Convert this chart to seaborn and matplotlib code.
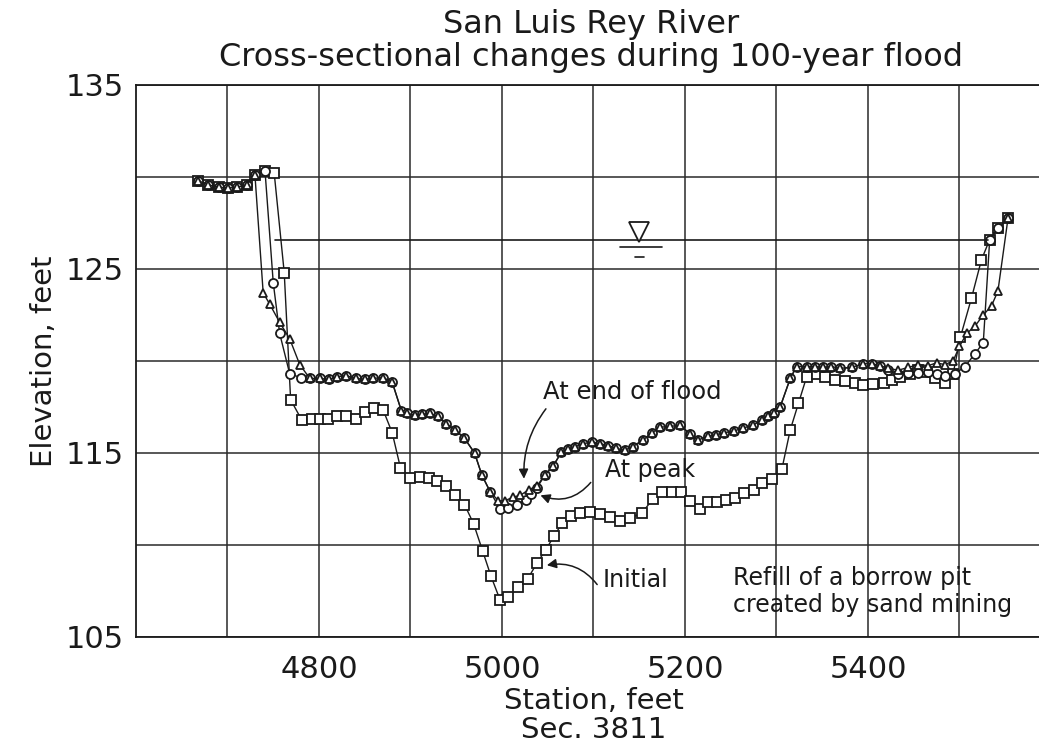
import numpy as np
import pandas as pd
import matplotlib
matplotlib.use("Agg")
import matplotlib.pyplot as plt
import seaborn as sns

initial_x = [4668, 4679, 4691, 4701, 4710, 4721, 4730, 4741, 4751, 4762, 4769, 4781,
             4792, 4801, 4810, 4820, 4830, 4840, 4850, 4860, 4870, 4880, 4889, 4900,
             4910, 4920, 4929, 4939, 4949, 4959, 4969, 4979, 4988, 4998, 5007, 5018,
             5028, 5038, 5048, 5057, 5066, 5075, 5085, 5096, 5107, 5118, 5129, 5140,
             5153, 5165, 5175, 5186, 5196, 5205, 5216, 5225, 5235, 5245, 5255, 5264,
             5275, 5284, 5295, 5306, 5315, 5324, 5333, 5344, 5353, 5364, 5375, 5386,
             5395, 5406, 5417, 5426, 5435, 5446, 5455, 5464, 5473, 5484, 5493, 5501,
             5513, 5524, 5533, 5542, 5553]
initial_y = [129.8, 129.57, 129.44, 129.4, 129.44, 129.57, 130.1, 130.33, 130.23, 124.8, 117.9, 116.8,
             116.85, 116.85, 116.85, 117.0, 117.0, 116.85, 117.25, 117.45, 117.35, 116.1, 114.2, 113.65,
             113.7, 113.65, 113.5, 113.2, 112.7, 112.2, 111.15, 109.65, 108.3, 107.0, 107.2, 107.7,
             108.15, 109.0, 109.75, 110.5, 111.2, 111.55, 111.75, 111.8, 111.7, 111.5, 111.3, 111.45,
             111.75, 112.5, 112.9, 112.9, 112.9, 112.4, 111.95, 112.35, 112.35, 112.45, 112.55, 112.8,
             113.0, 113.35, 113.6, 114.15, 116.25, 117.7, 119.15, 119.3, 119.15, 118.97, 118.9, 118.8,
             118.7, 118.75, 118.8, 118.97, 119.15, 119.3, 119.5, 119.4, 119.05, 118.8, 119.3, 121.3,
             123.4, 125.5, 126.6, 127.2, 127.75]

peak_x = [4668, 4679, 4691, 4701, 4710, 4721, 4730, 4741, 4750, 4757, 4768, 4780,
          4790, 4801, 4811, 4820, 4830, 4840, 4850, 4859, 4870, 4880, 4890, 4896,
          4905, 4913, 4921, 4930, 4939, 4949, 4959, 4970, 4978, 4987, 4998, 5007,
          5016, 5026, 5032, 5038, 5047, 5056, 5065, 5072, 5080, 5089, 5098, 5107,
          5116, 5125, 5134, 5143, 5154, 5164, 5173, 5184, 5195, 5205, 5214, 5225,
          5234, 5243, 5254, 5263, 5274, 5284, 5291, 5297, 5304, 5315, 5322, 5333,
          5342, 5351, 5360, 5369, 5382, 5395, 5404, 5413, 5422, 5433, 5444, 5455,
          5466, 5475, 5484, 5495, 5506, 5517, 5526, 5533, 5542, 5553]
peak_y = [129.8, 129.57, 129.44, 129.4, 129.44, 129.57, 130.1, 130.33, 124.25, 121.5, 119.3, 119.1,
          119.05, 119.05, 119.0, 119.15, 119.2, 119.05, 119.0, 119.05, 119.1, 118.85, 117.3, 117.15,
          117.05, 117.1, 117.15, 117.0, 116.6, 116.25, 115.8, 115.0, 113.8, 112.9, 111.95, 112.0,
          112.2, 112.45, 112.75, 113.1, 113.8, 114.3, 115.05, 115.2, 115.35, 115.5, 115.6, 115.5,
          115.4, 115.25, 115.15, 115.35, 115.7, 116.1, 116.4, 116.45, 116.5, 116.05, 115.7, 115.9,
          116.0, 116.1, 116.2, 116.35, 116.5, 116.8, 117.0, 117.15, 117.5, 119.05, 119.7, 119.7,
          119.7, 119.65, 119.7, 119.6, 119.65, 119.85, 119.85, 119.75, 119.5, 119.3, 119.35, 119.35,
          119.4, 119.3, 119.2, 119.3, 119.7, 120.4, 121.0, 126.6, 127.2, 127.75]

end_x = [4668, 4679, 4691, 4701, 4710, 4721, 4730, 4739, 4746, 4757, 4768, 4779,
         4790, 4801, 4811, 4820, 4830, 4840, 4850, 4859, 4870, 4880, 4890, 4896,
         4905, 4913, 4921, 4930, 4939, 4949, 4959, 4970, 4978, 4987, 4996, 5003,
         5012, 5020, 5029, 5038, 5047, 5056, 5065, 5072, 5080, 5089, 5098, 5107,
         5116, 5125, 5134, 5143, 5154, 5164, 5173, 5184, 5195, 5205, 5214, 5225,
         5234, 5243, 5254, 5263, 5274, 5284, 5291, 5297, 5304, 5315, 5322, 5333,
         5342, 5351, 5360, 5369, 5382, 5395, 5404, 5413, 5422, 5433, 5444, 5455,
         5466, 5475, 5484, 5493, 5500, 5508, 5517, 5526, 5535, 5542, 5553]
end_y = [129.8, 129.57, 129.44, 129.4, 129.44, 129.57, 130.1, 123.7, 123.1, 122.1, 121.2, 119.8,
         119.05, 119.05, 119.0, 119.15, 119.2, 119.05, 119.0, 119.05, 119.1, 118.85, 117.3, 117.15,
         117.05, 117.1, 117.15, 117.0, 116.6, 116.25, 115.8, 115.0, 113.8, 112.9, 112.4, 112.4,
         112.6, 112.7, 113.0, 113.2, 113.8, 114.3, 115.05, 115.2, 115.35, 115.5, 115.6, 115.5,
         115.4, 115.25, 115.15, 115.35, 115.7, 116.1, 116.4, 116.45, 116.5, 116.05, 115.7, 115.9,
         116.0, 116.1, 116.2, 116.35, 116.5, 116.8, 117.0, 117.15, 117.5, 119.05, 119.7, 119.7,
         119.7, 119.65, 119.7, 119.6, 119.65, 119.85, 119.85, 119.75, 119.6, 119.5, 119.65, 119.8,
         119.75, 119.9, 119.8, 120.0, 120.8, 121.5, 121.9, 122.5, 123.0, 123.8, 127.75]

water_x = [4752, 5531]
water_y = [126.6, 126.6]

x_ticks = [4800, 5000, 5200, 5400]
y_ticks = [105, 115, 125, 135]

sns.set_style("white")
plt.rcParams["font.family"] = ["DejaVu Sans"]

fig = plt.figure(figsize=(10.39, 7.48), dpi=100)
ax = fig.add_axes([136 / 1039, 0.1484, 915 / 1039, 0.738])

ink = "#1a1a1a"
common = dict(estimator=None, sort=False, color=ink, linewidth=1.0,
              markerfacecolor="white", markeredgecolor=ink, markeredgewidth=1.3, ax=ax)

sns.lineplot(x=initial_x, y=initial_y, marker="s", markersize=6.5, **common)
sns.lineplot(x=peak_x, y=peak_y, marker="o", markersize=6.5, **common)
sns.lineplot(x=end_x, y=end_y, marker="^", markersize=6, **common)

# water surface
ax.plot(water_x, water_y, color=ink, linewidth=1.2)
ax.plot([5150], [127.0], marker="v", markersize=14, markerfacecolor="white",
        markeredgecolor=ink, markeredgewidth=1.3, linestyle="none")
ax.plot([5129, 5175], [126.2, 126.2], color=ink, linewidth=1.2)
ax.plot([5145, 5155], [125.65, 125.65], color=ink, linewidth=1.2)

ax.set_xlim(4600, 5600)
ax.set_ylim(105, 135)
ax.set_xticks(x_ticks)
ax.set_xticks([4700, 4900, 5100, 5300, 5500], minor=True)
ax.set_yticks(y_ticks)
ax.set_yticks([110, 120, 130], minor=True)
ax.grid(which="both", color="#2a2a2a", linewidth=1.1)
ax.tick_params(axis="both", which="major", direction="inout", length=10, width=1.1,
               labelsize=22, colors=ink)
ax.tick_params(axis="x", which="major", pad=8)
ax.tick_params(axis="both", which="minor", length=0)
for s in ax.spines.values():
    s.set_color(ink)
    s.set_linewidth(1.3)

ax.set_xlabel("Station, feet\nSec. 3811", fontsize=21, color=ink, labelpad=2,
              linespacing=1.05)
ax.set_ylabel("Elevation, feet", fontsize=21, color=ink, labelpad=6)
ax.set_title("San Luis Rey River\nCross-sectional changes during 100-year flood",
             fontsize=23, color=ink, pad=14, linespacing=1.05, x=0.497)

# labels and their curved pointers
arrow = dict(arrowstyle="-|>", color=ink, lw=1.1, mutation_scale=14, shrinkA=0, shrinkB=0)
ax.text(5142, 118.3, "At end of flood", fontsize=17.5, ha="center", va="center", color=ink)
ax.annotate("", xy=(5024, 113.6), xytext=(5048, 117.4),
            arrowprops=dict(connectionstyle="arc3,rad=0.18", **arrow))
ax.text(5162, 114.1, "At peak", fontsize=17, ha="center", va="center", color=ink)
ax.annotate("", xy=(5042, 112.7), xytext=(5097, 113.4),
            arrowprops=dict(connectionstyle="arc3,rad=-0.35", **arrow))
ax.text(5146, 108.1, "Initial", fontsize=17, ha="center", va="center", color=ink)
ax.annotate("", xy=(5049, 108.9), xytext=(5104, 107.85),
            arrowprops=dict(connectionstyle="arc3,rad=0.3", **arrow))
ax.text(5253, 107.45, "Refill of a borrow pit\ncreated by sand mining",
        fontsize=17, ha="left", va="center", color=ink, linespacing=1.15)

fig.savefig("out.png", dpi=100)
